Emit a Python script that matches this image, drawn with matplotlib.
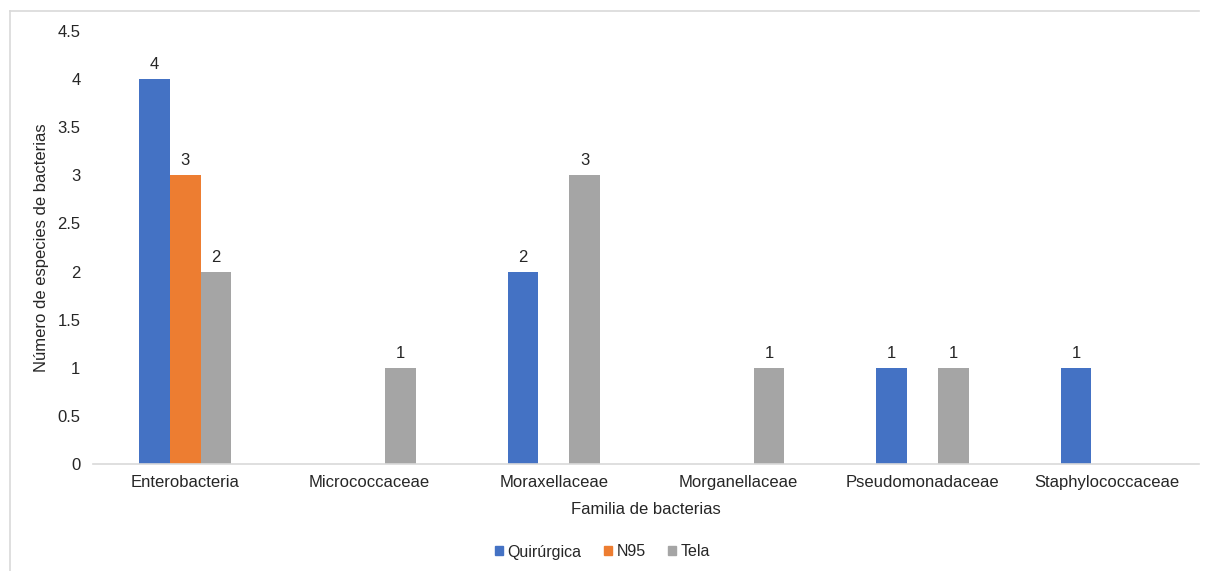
import numpy as np
import matplotlib.pyplot as plt
from matplotlib.lines import Line2D

plt.rcParams['font.family'] = ['Liberation Sans', 'DejaVu Sans']

familias = ['Enterobacteria', 'Micrococcaceae', 'Moraxellaceae',
            'Morganellaceae', 'Pseudomonadaceae', 'Staphylococcaceae']
quirurgica = [4, 0, 2, 0, 1, 1]
n95 = [3, 0, 0, 0, 0, 0]
tela = [2, 1, 3, 1, 1, 0]

series = [('Quirúrgica', quirurgica, '#4472C4'),
          ('N95', n95, '#ED7D31'),
          ('Tela', tela, '#A5A5A5')]

fig = plt.figure(figsize=(12.05, 5.71), dpi=100)
ax = fig.add_axes([93 / 1205, 107 / 571, 1106 / 1205, 433 / 571])

x = np.arange(len(familias))
width = 1 / 6
for i, (name, vals, color) in enumerate(series):
    pos = x + (i - 1) * width
    bars = ax.bar(pos, vals, width, color=color, label=name)
    for b, v in zip(bars, vals):
        if v > 0:
            ax.annotate(str(v), (b.get_x() + b.get_width() / 2, v),
                        xytext=(0, 5), textcoords='offset points',
                        ha='center', va='bottom', fontsize=12, color='#262626')

ax.set_xlim(-0.5, len(familias) - 0.5)
ax.set_ylim(0, 4.5)
ax.set_yticks(np.arange(0, 4.51, 0.5))
ax.set_yticklabels(['0', '0.5', '1', '1.5', '2', '2.5', '3', '3.5', '4', '4.5'])
ax.set_xticks(x)
ax.set_xticklabels(familias)
ax.tick_params(axis='both', length=0, labelsize=12, labelcolor='#262626')
ax.tick_params(axis='y', pad=9)
ax.tick_params(axis='x', pad=8)
for s in ['top', 'right', 'left']:
    ax.spines[s].set_visible(False)
ax.spines['bottom'].set_color('#d9d9d9')
ax.spines['bottom'].set_linewidth(1.2)

ax.set_xlabel('Familia de bacterias', fontsize=12, color='#262626')
ax.set_ylabel('Número de especies de bacterias', fontsize=12, color='#262626')
ax.xaxis.set_label_coords(0.5, -45 / 433)
ax.yaxis.set_label_coords(-51 / 1106, 0.5)
ax.xaxis.label.set_va('center')
ax.yaxis.label.set_va('center')

handles = [plt.Rectangle((0, 0), 1, 1, color=c) for _, _, c in series]
fig.legend(handles, [n for n, _, _ in series], loc='center', bbox_to_anchor=(0.5, 1 - 552 / 571),
           ncol=3, frameon=False, fontsize=11.5, handlelength=0.5, handleheight=0.5,
           handletextpad=0.3, columnspacing=1.4, labelcolor='#262626')

# chart frame (left and top edges visible)
fig.add_artist(Line2D([10 / 1205, 10 / 1205], [0, 1 - 11 / 571], color='#d9d9d9', lw=1.2))
fig.add_artist(Line2D([10 / 1205, 1199 / 1205], [1 - 11 / 571, 1 - 11 / 571], color='#d9d9d9', lw=1.2))

fig.savefig('out.png', dpi=100, facecolor='white')
